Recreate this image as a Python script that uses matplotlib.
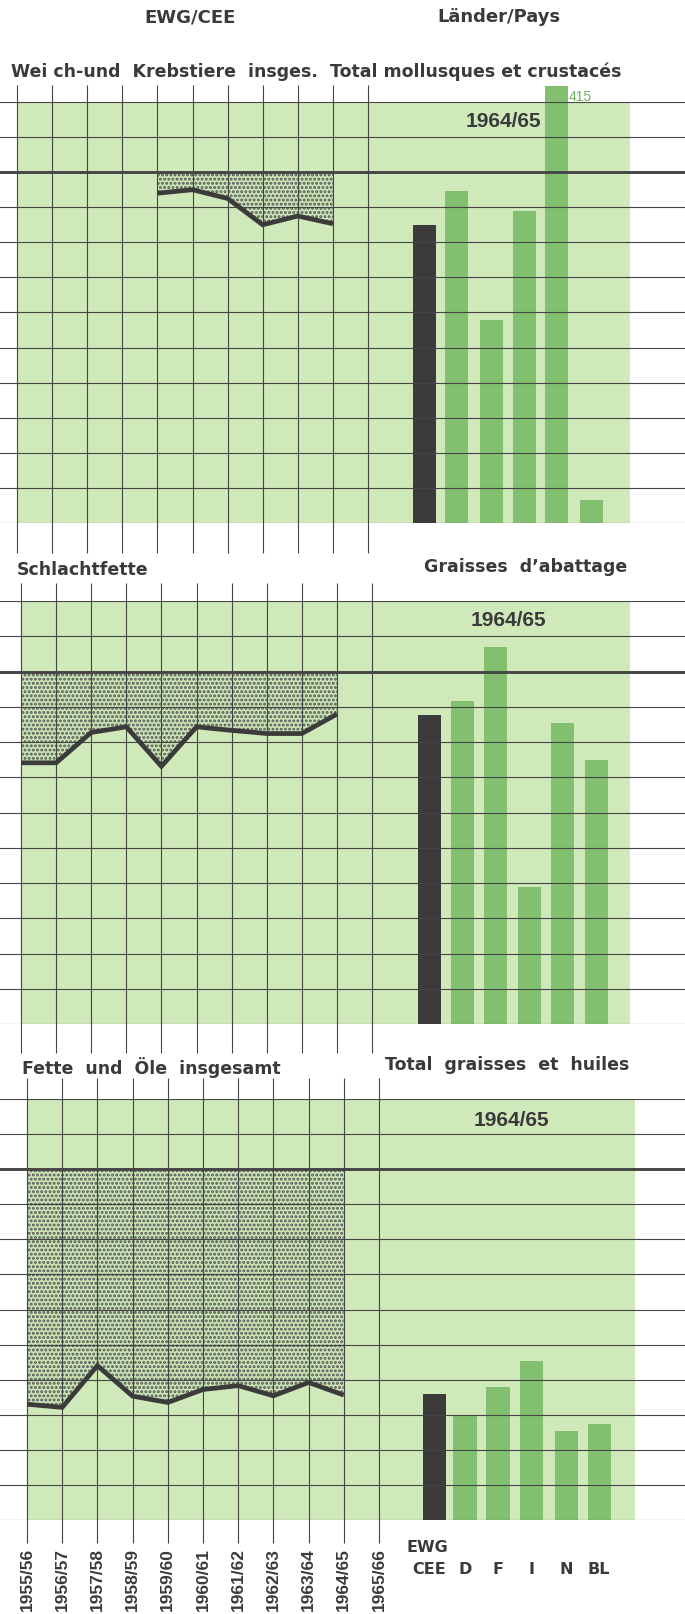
import numpy as np
import matplotlib
matplotlib.use('Agg')
import matplotlib.pyplot as plt

# Index-Werte: dicke Linie = 100, Gitter alle 10
years = ['1955/56', '1956/57', '1957/58', '1958/59', '1959/60', '1960/61',
         '1961/62', '1962/63', '1963/64', '1964/65', '1965/66']
countries = ['CEE', 'D', 'F', 'I', 'N', 'BL']

p1_start = 4  # Linie beginnt 1959/60
p1_line = [94, 95, 92.5, 85, 87.5, 85.3]
p1_bars = [85, 94.5, 58, 89, 415, 6.5]

p2_start = 0
p2_line = [74.1, 74.1, 82.7, 84.3, 73.1, 84.3, 83.3, 82.4, 82.4, 87.9]
p2_bars = [87.8, 91.6, 107, 38.9, 85.5, 74.8]

p3_start = 0
p3_line = [33.0, 32.1, 44.0, 35.3, 33.5, 37.2, 38.3, 35.4, 39.2, 35.6]
p3_bars = [36, 30, 37.9, 45.4, 25.5, 27.4]

W, H = 685, 1614
green = '#d0e9bb'
bar_green = '#82bf6f'
dark = '#3b3b3b'
ink = '#3a3a3a'
title_font = ['DejaVu Sans']
num_font = ['Liberation Sans', 'DejaVu Sans']
plt.rcParams['hatch.linewidth'] = 1.4

fig = plt.figure(figsize=(W / 100, H / 100), dpi=100)


def fx(px):
    return px / W


def fy(py):
    return 1 - py / H


# Layout der drei Felder in Pixeln
panels = [
    dict(top=102, bottom=523, x0=17, step=35.1, green_r=630,
         bar_px=[424, 457, 491, 524, 556, 591], vtop=85, vbot=553,
         line=p1_line, start=p1_start, bars=p1_bars, label_y=122),
    dict(top=601, bottom=1024, x0=21, step=35.1, green_r=630,
         bar_px=[429.5, 462, 495.5, 529.5, 562.5, 596.5], vtop=583, vbot=1053,
         line=p2_line, start=p2_start, bars=p2_bars, label_y=620),
    dict(top=1099, bottom=1520, x0=27, step=35.2, green_r=635,
         bar_px=[434, 465, 498, 531, 566, 599], vtop=1078, vbot=1543,
         line=p3_line, start=p3_start, bars=p3_bars, label_y=1120),
]

axes = []
for p in panels:
    ax = fig.add_axes([0, fy(p['bottom']), 1, (p['bottom'] - p['top']) / H])
    unit = (p['bottom'] - p['top']) / 120.0  # px je Indexpunkt
    x0, step = p['x0'], p['step']
    ax.set_xlim(-x0 / step, (W - x0) / step)
    ax.set_ylim(0, 120)
    ax.axis('off')

    # gruener Hintergrund
    ax.axvspan(0, (p['green_r'] - x0) / step, color=green, lw=0, zorder=0)

    # punktierte Flaeche zwischen 100 und der Linie
    xs = np.arange(p['start'], p['start'] + len(p['line']))
    ax.fill_between(xs, p['line'], 100, facecolor='#c9e3b5', edgecolor='#555555',
                    hatch='....', lw=0, zorder=1)

    # Saeulen
    bx = [(b - x0) / step for b in p['bar_px']]
    cap = 120 + (p['top'] - 86) / unit
    shown = [min(v, cap) for v in p['bars']]
    cols = [dark] + [bar_green] * 5
    ax.bar(bx, shown, width=23 / step, color=cols, lw=0, zorder=2, clip_on=False)
    for v, x, s in zip(p['bars'], bx, shown):
        if v > s:
            ax.text(x + 12.5 / step, s - 1.0, f'{v:g}', color='#6fae5c',
                    fontsize=10, family=num_font, va='top', ha='left')

    # Gitter
    for yv in range(0, 121, 10):
        ax.axhline(yv, color='#454545', lw=2.1 if yv == 100 else 0.8, zorder=3)
    ax.vlines(np.arange(len(years)), (p['bottom'] - p['vbot']) / unit,
              120 + (p['top'] - p['vtop']) / unit, color='#454545', lw=0.8,
              zorder=3, clip_on=False)

    # EWG-Linie
    ax.plot(xs, p['line'], color=dark, lw=3.4, solid_joinstyle='miter',
            solid_capstyle='butt', zorder=4)

    ax.text(np.mean(bx[1:5]) - 0.1, 120 - (p['label_y'] - p['top']) / unit,
            '1964/65', fontsize=15, fontweight='bold', family=num_font,
            color=ink, ha='center', va='center', zorder=5)
    axes.append(ax)

# Kopf
fig.text(fx(190), fy(18), 'EWG/CEE', fontsize=13, fontweight='bold',
         family=title_font, color=ink, ha='center', va='center')
fig.text(fx(499), fy(17), 'Länder/Pays', fontsize=13, fontweight='bold',
         family=title_font, color=ink, ha='center', va='center')

tkw = dict(fontsize=12.5, fontweight='bold', family=title_font, color=ink,
           va='center')
fig.text(fx(11), fy(72), 'Wei ch-und  Krebstiere  insges.', ha='left', **tkw)
fig.text(fx(622), fy(72), 'Total mollusques et crustacés', ha='right', **tkw)
fig.text(fx(17), fy(570), 'Schlachtfette', ha='left', **tkw)
fig.text(fx(627), fy(567), 'Graisses  d’abattage', ha='right', **tkw)
fig.text(fx(22), fy(1067), 'Fette  und  Öle  insgesamt', ha='left', **tkw)
fig.text(fx(629), fy(1065), 'Total  graisses  et  huiles', ha='right', **tkw)

# Achsenbeschriftung unten
ax3 = axes[-1]
p3 = panels[-1]
u3 = (p3['bottom'] - p3['top']) / 120.0
for i, y in enumerate(years):
    ax3.text(i, -(1548 - p3['bottom']) / u3, y, rotation=90, fontsize=12.5,
             fontweight='bold', family=num_font, color=ink,
             ha='center', va='top')
bx3 = [(b - p3['x0']) / p3['step'] for b in p3['bar_px']]
ax3.text(bx3[0] - 28 / p3['step'], -(1548 - p3['bottom']) / u3, 'EWG',
         fontsize=11.5, fontweight='bold', family=title_font, color=ink,
         ha='left', va='center')
for x, c in zip(bx3, countries):
    ax3.text(x - (5 / p3['step'] if c == 'CEE' else 0), -(1570 - p3['bottom']) / u3,
             c, fontsize=11.5, fontweight='bold', family=title_font, color=ink,
             ha='center', va='center')

fig.savefig('out.png', dpi=100)
